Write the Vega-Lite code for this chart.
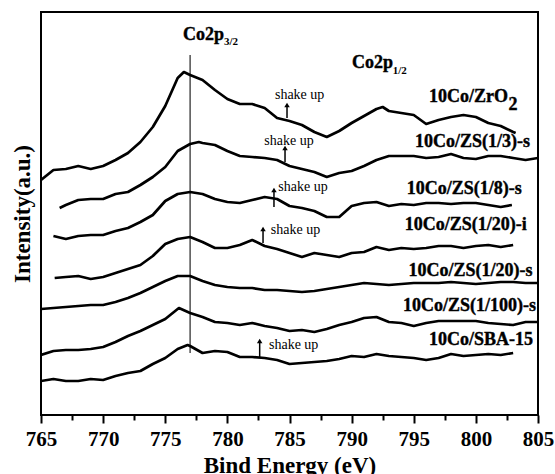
{
  "$schema": "https://vega.github.io/schema/vega-lite/v6.json",
  "width": 497,
  "height": 403,
  "autosize": {"type": "none"},
  "padding": {"left": 41, "top": 12, "right": 17, "bottom": 59},
  "config": {
    "view": {"stroke": "black", "strokeWidth": 2},
    "font": "Liberation Serif",
    "axis": {"grid": false, "domain": false, "labelFont": "Liberation Serif", "labelFontWeight": "bold", "labelFontSize": 21, "labelColor": "black"}
  },
  "datasets": {
    "spectra": [
      {"sample": "10Co/ZrO2", "eV": 765, "intensity": 235}, {"sample": "10Co/ZrO2", "eV": 766, "intensity": 245}, {"sample": "10Co/ZrO2", "eV": 767, "intensity": 246}, {"sample": "10Co/ZrO2", "eV": 768, "intensity": 249}, {"sample": "10Co/ZrO2", "eV": 769, "intensity": 246}, {"sample": "10Co/ZrO2", "eV": 770, "intensity": 249}, {"sample": "10Co/ZrO2", "eV": 771, "intensity": 255}, {"sample": "10Co/ZrO2", "eV": 772, "intensity": 262}, {"sample": "10Co/ZrO2", "eV": 773, "intensity": 273}, {"sample": "10Co/ZrO2", "eV": 774, "intensity": 288}, {"sample": "10Co/ZrO2", "eV": 775, "intensity": 309}, {"sample": "10Co/ZrO2", "eV": 776, "intensity": 337}, {"sample": "10Co/ZrO2", "eV": 776.5, "intensity": 343}, {"sample": "10Co/ZrO2", "eV": 777, "intensity": 340}, {"sample": "10Co/ZrO2", "eV": 778, "intensity": 335}, {"sample": "10Co/ZrO2", "eV": 779, "intensity": 325}, {"sample": "10Co/ZrO2", "eV": 780, "intensity": 316}, {"sample": "10Co/ZrO2", "eV": 781, "intensity": 311}, {"sample": "10Co/ZrO2", "eV": 782, "intensity": 311}, {"sample": "10Co/ZrO2", "eV": 783, "intensity": 307}, {"sample": "10Co/ZrO2", "eV": 784, "intensity": 297}, {"sample": "10Co/ZrO2", "eV": 785, "intensity": 294}, {"sample": "10Co/ZrO2", "eV": 786, "intensity": 290}, {"sample": "10Co/ZrO2", "eV": 787, "intensity": 283}, {"sample": "10Co/ZrO2", "eV": 788, "intensity": 278}, {"sample": "10Co/ZrO2", "eV": 789, "intensity": 284}, {"sample": "10Co/ZrO2", "eV": 790, "intensity": 292}, {"sample": "10Co/ZrO2", "eV": 791, "intensity": 299}, {"sample": "10Co/ZrO2", "eV": 792, "intensity": 306}, {"sample": "10Co/ZrO2", "eV": 792.5, "intensity": 308}, {"sample": "10Co/ZrO2", "eV": 793, "intensity": 304}, {"sample": "10Co/ZrO2", "eV": 794, "intensity": 302}, {"sample": "10Co/ZrO2", "eV": 795, "intensity": 300}, {"sample": "10Co/ZrO2", "eV": 796, "intensity": 291}, {"sample": "10Co/ZrO2", "eV": 797, "intensity": 295}, {"sample": "10Co/ZrO2", "eV": 798, "intensity": 298}, {"sample": "10Co/ZrO2", "eV": 799, "intensity": 300}, {"sample": "10Co/ZrO2", "eV": 800, "intensity": 298}, {"sample": "10Co/ZrO2", "eV": 801, "intensity": 292}, {"sample": "10Co/ZrO2", "eV": 802, "intensity": 289}, {"sample": "10Co/ZrO2", "eV": 803, "intensity": 283}, {"sample": "10Co/ZrO2", "eV": 803.2, "intensity": 282},

      {"sample": "10Co/ZS(1/3)-s", "eV": 766.5, "intensity": 207}, {"sample": "10Co/ZS(1/3)-s", "eV": 767, "intensity": 210}, {"sample": "10Co/ZS(1/3)-s", "eV": 768, "intensity": 215}, {"sample": "10Co/ZS(1/3)-s", "eV": 769, "intensity": 216}, {"sample": "10Co/ZS(1/3)-s", "eV": 770, "intensity": 216}, {"sample": "10Co/ZS(1/3)-s", "eV": 771, "intensity": 221}, {"sample": "10Co/ZS(1/3)-s", "eV": 772, "intensity": 223}, {"sample": "10Co/ZS(1/3)-s", "eV": 773, "intensity": 230}, {"sample": "10Co/ZS(1/3)-s", "eV": 774, "intensity": 238}, {"sample": "10Co/ZS(1/3)-s", "eV": 775, "intensity": 248}, {"sample": "10Co/ZS(1/3)-s", "eV": 776, "intensity": 264}, {"sample": "10Co/ZS(1/3)-s", "eV": 777, "intensity": 271}, {"sample": "10Co/ZS(1/3)-s", "eV": 777.7, "intensity": 273}, {"sample": "10Co/ZS(1/3)-s", "eV": 778, "intensity": 272}, {"sample": "10Co/ZS(1/3)-s", "eV": 779, "intensity": 270}, {"sample": "10Co/ZS(1/3)-s", "eV": 780, "intensity": 264}, {"sample": "10Co/ZS(1/3)-s", "eV": 781, "intensity": 259}, {"sample": "10Co/ZS(1/3)-s", "eV": 782, "intensity": 258}, {"sample": "10Co/ZS(1/3)-s", "eV": 783, "intensity": 257}, {"sample": "10Co/ZS(1/3)-s", "eV": 784, "intensity": 255}, {"sample": "10Co/ZS(1/3)-s", "eV": 785, "intensity": 249}, {"sample": "10Co/ZS(1/3)-s", "eV": 786, "intensity": 246}, {"sample": "10Co/ZS(1/3)-s", "eV": 787, "intensity": 243}, {"sample": "10Co/ZS(1/3)-s", "eV": 788, "intensity": 238}, {"sample": "10Co/ZS(1/3)-s", "eV": 789, "intensity": 242}, {"sample": "10Co/ZS(1/3)-s", "eV": 790, "intensity": 244}, {"sample": "10Co/ZS(1/3)-s", "eV": 791, "intensity": 249}, {"sample": "10Co/ZS(1/3)-s", "eV": 792, "intensity": 255}, {"sample": "10Co/ZS(1/3)-s", "eV": 793, "intensity": 259}, {"sample": "10Co/ZS(1/3)-s", "eV": 794, "intensity": 259}, {"sample": "10Co/ZS(1/3)-s", "eV": 795, "intensity": 259}, {"sample": "10Co/ZS(1/3)-s", "eV": 796, "intensity": 257}, {"sample": "10Co/ZS(1/3)-s", "eV": 797, "intensity": 258}, {"sample": "10Co/ZS(1/3)-s", "eV": 798, "intensity": 261}, {"sample": "10Co/ZS(1/3)-s", "eV": 799, "intensity": 257}, {"sample": "10Co/ZS(1/3)-s", "eV": 800, "intensity": 256}, {"sample": "10Co/ZS(1/3)-s", "eV": 801, "intensity": 259}, {"sample": "10Co/ZS(1/3)-s", "eV": 802, "intensity": 259}, {"sample": "10Co/ZS(1/3)-s", "eV": 803, "intensity": 257}, {"sample": "10Co/ZS(1/3)-s", "eV": 804, "intensity": 255}, {"sample": "10Co/ZS(1/3)-s", "eV": 805, "intensity": 257},

      {"sample": "10Co/ZS(1/8)-s", "eV": 766, "intensity": 179}, {"sample": "10Co/ZS(1/8)-s", "eV": 767, "intensity": 176}, {"sample": "10Co/ZS(1/8)-s", "eV": 768, "intensity": 179}, {"sample": "10Co/ZS(1/8)-s", "eV": 769, "intensity": 180}, {"sample": "10Co/ZS(1/8)-s", "eV": 770, "intensity": 180}, {"sample": "10Co/ZS(1/8)-s", "eV": 771, "intensity": 184}, {"sample": "10Co/ZS(1/8)-s", "eV": 772, "intensity": 187}, {"sample": "10Co/ZS(1/8)-s", "eV": 773, "intensity": 193}, {"sample": "10Co/ZS(1/8)-s", "eV": 774, "intensity": 200}, {"sample": "10Co/ZS(1/8)-s", "eV": 775, "intensity": 214}, {"sample": "10Co/ZS(1/8)-s", "eV": 776, "intensity": 221}, {"sample": "10Co/ZS(1/8)-s", "eV": 777, "intensity": 223}, {"sample": "10Co/ZS(1/8)-s", "eV": 778, "intensity": 221}, {"sample": "10Co/ZS(1/8)-s", "eV": 779, "intensity": 216}, {"sample": "10Co/ZS(1/8)-s", "eV": 780, "intensity": 213}, {"sample": "10Co/ZS(1/8)-s", "eV": 781, "intensity": 212}, {"sample": "10Co/ZS(1/8)-s", "eV": 782, "intensity": 215}, {"sample": "10Co/ZS(1/8)-s", "eV": 783, "intensity": 218}, {"sample": "10Co/ZS(1/8)-s", "eV": 784, "intensity": 216}, {"sample": "10Co/ZS(1/8)-s", "eV": 785, "intensity": 209}, {"sample": "10Co/ZS(1/8)-s", "eV": 786, "intensity": 207}, {"sample": "10Co/ZS(1/8)-s", "eV": 787, "intensity": 204}, {"sample": "10Co/ZS(1/8)-s", "eV": 788, "intensity": 198}, {"sample": "10Co/ZS(1/8)-s", "eV": 789, "intensity": 198}, {"sample": "10Co/ZS(1/8)-s", "eV": 790, "intensity": 209}, {"sample": "10Co/ZS(1/8)-s", "eV": 791, "intensity": 212}, {"sample": "10Co/ZS(1/8)-s", "eV": 792, "intensity": 213}, {"sample": "10Co/ZS(1/8)-s", "eV": 793, "intensity": 209}, {"sample": "10Co/ZS(1/8)-s", "eV": 794, "intensity": 211}, {"sample": "10Co/ZS(1/8)-s", "eV": 795, "intensity": 210}, {"sample": "10Co/ZS(1/8)-s", "eV": 796, "intensity": 212}, {"sample": "10Co/ZS(1/8)-s", "eV": 797, "intensity": 212}, {"sample": "10Co/ZS(1/8)-s", "eV": 798, "intensity": 211}, {"sample": "10Co/ZS(1/8)-s", "eV": 799, "intensity": 212}, {"sample": "10Co/ZS(1/8)-s", "eV": 800, "intensity": 212}, {"sample": "10Co/ZS(1/8)-s", "eV": 801, "intensity": 210}, {"sample": "10Co/ZS(1/8)-s", "eV": 802, "intensity": 208}, {"sample": "10Co/ZS(1/8)-s", "eV": 802.9, "intensity": 210},

      {"sample": "10Co/ZS(1/20)-i", "eV": 766.1, "intensity": 137}, {"sample": "10Co/ZS(1/20)-i", "eV": 767, "intensity": 138}, {"sample": "10Co/ZS(1/20)-i", "eV": 768, "intensity": 139}, {"sample": "10Co/ZS(1/20)-i", "eV": 769, "intensity": 136}, {"sample": "10Co/ZS(1/20)-i", "eV": 770, "intensity": 138}, {"sample": "10Co/ZS(1/20)-i", "eV": 771, "intensity": 142}, {"sample": "10Co/ZS(1/20)-i", "eV": 772, "intensity": 146}, {"sample": "10Co/ZS(1/20)-i", "eV": 773, "intensity": 150}, {"sample": "10Co/ZS(1/20)-i", "eV": 774, "intensity": 159}, {"sample": "10Co/ZS(1/20)-i", "eV": 775, "intensity": 171}, {"sample": "10Co/ZS(1/20)-i", "eV": 776, "intensity": 176}, {"sample": "10Co/ZS(1/20)-i", "eV": 777, "intensity": 178}, {"sample": "10Co/ZS(1/20)-i", "eV": 778, "intensity": 173}, {"sample": "10Co/ZS(1/20)-i", "eV": 779, "intensity": 167}, {"sample": "10Co/ZS(1/20)-i", "eV": 780, "intensity": 167}, {"sample": "10Co/ZS(1/20)-i", "eV": 781, "intensity": 170}, {"sample": "10Co/ZS(1/20)-i", "eV": 782, "intensity": 175}, {"sample": "10Co/ZS(1/20)-i", "eV": 783, "intensity": 169}, {"sample": "10Co/ZS(1/20)-i", "eV": 784, "intensity": 166}, {"sample": "10Co/ZS(1/20)-i", "eV": 785, "intensity": 162}, {"sample": "10Co/ZS(1/20)-i", "eV": 786, "intensity": 158}, {"sample": "10Co/ZS(1/20)-i", "eV": 787, "intensity": 162}, {"sample": "10Co/ZS(1/20)-i", "eV": 788, "intensity": 160}, {"sample": "10Co/ZS(1/20)-i", "eV": 789, "intensity": 158}, {"sample": "10Co/ZS(1/20)-i", "eV": 790, "intensity": 162}, {"sample": "10Co/ZS(1/20)-i", "eV": 791, "intensity": 163}, {"sample": "10Co/ZS(1/20)-i", "eV": 792, "intensity": 168}, {"sample": "10Co/ZS(1/20)-i", "eV": 793, "intensity": 165}, {"sample": "10Co/ZS(1/20)-i", "eV": 794, "intensity": 167}, {"sample": "10Co/ZS(1/20)-i", "eV": 795, "intensity": 166}, {"sample": "10Co/ZS(1/20)-i", "eV": 796, "intensity": 167}, {"sample": "10Co/ZS(1/20)-i", "eV": 797, "intensity": 169}, {"sample": "10Co/ZS(1/20)-i", "eV": 798, "intensity": 169}, {"sample": "10Co/ZS(1/20)-i", "eV": 799, "intensity": 167}, {"sample": "10Co/ZS(1/20)-i", "eV": 800, "intensity": 169}, {"sample": "10Co/ZS(1/20)-i", "eV": 801, "intensity": 170}, {"sample": "10Co/ZS(1/20)-i", "eV": 802, "intensity": 168}, {"sample": "10Co/ZS(1/20)-i", "eV": 803, "intensity": 170},

      {"sample": "10Co/ZS(1/20)-s", "eV": 765, "intensity": 106}, {"sample": "10Co/ZS(1/20)-s", "eV": 766, "intensity": 107}, {"sample": "10Co/ZS(1/20)-s", "eV": 767, "intensity": 108}, {"sample": "10Co/ZS(1/20)-s", "eV": 768, "intensity": 109}, {"sample": "10Co/ZS(1/20)-s", "eV": 769, "intensity": 110}, {"sample": "10Co/ZS(1/20)-s", "eV": 770, "intensity": 110}, {"sample": "10Co/ZS(1/20)-s", "eV": 771, "intensity": 113}, {"sample": "10Co/ZS(1/20)-s", "eV": 772, "intensity": 117}, {"sample": "10Co/ZS(1/20)-s", "eV": 773, "intensity": 122}, {"sample": "10Co/ZS(1/20)-s", "eV": 774, "intensity": 128}, {"sample": "10Co/ZS(1/20)-s", "eV": 775, "intensity": 134}, {"sample": "10Co/ZS(1/20)-s", "eV": 776, "intensity": 139}, {"sample": "10Co/ZS(1/20)-s", "eV": 777, "intensity": 139}, {"sample": "10Co/ZS(1/20)-s", "eV": 778, "intensity": 134}, {"sample": "10Co/ZS(1/20)-s", "eV": 779, "intensity": 130}, {"sample": "10Co/ZS(1/20)-s", "eV": 780, "intensity": 128}, {"sample": "10Co/ZS(1/20)-s", "eV": 781, "intensity": 127}, {"sample": "10Co/ZS(1/20)-s", "eV": 782, "intensity": 127}, {"sample": "10Co/ZS(1/20)-s", "eV": 783, "intensity": 125}, {"sample": "10Co/ZS(1/20)-s", "eV": 784, "intensity": 125}, {"sample": "10Co/ZS(1/20)-s", "eV": 785, "intensity": 124}, {"sample": "10Co/ZS(1/20)-s", "eV": 786, "intensity": 123}, {"sample": "10Co/ZS(1/20)-s", "eV": 787, "intensity": 124}, {"sample": "10Co/ZS(1/20)-s", "eV": 788, "intensity": 126}, {"sample": "10Co/ZS(1/20)-s", "eV": 789, "intensity": 128}, {"sample": "10Co/ZS(1/20)-s", "eV": 790, "intensity": 130}, {"sample": "10Co/ZS(1/20)-s", "eV": 791, "intensity": 132}, {"sample": "10Co/ZS(1/20)-s", "eV": 792, "intensity": 131}, {"sample": "10Co/ZS(1/20)-s", "eV": 793, "intensity": 130}, {"sample": "10Co/ZS(1/20)-s", "eV": 794, "intensity": 131}, {"sample": "10Co/ZS(1/20)-s", "eV": 795, "intensity": 132}, {"sample": "10Co/ZS(1/20)-s", "eV": 796, "intensity": 132}, {"sample": "10Co/ZS(1/20)-s", "eV": 797, "intensity": 132}, {"sample": "10Co/ZS(1/20)-s", "eV": 798, "intensity": 133}, {"sample": "10Co/ZS(1/20)-s", "eV": 799, "intensity": 132}, {"sample": "10Co/ZS(1/20)-s", "eV": 800, "intensity": 131}, {"sample": "10Co/ZS(1/20)-s", "eV": 801, "intensity": 132}, {"sample": "10Co/ZS(1/20)-s", "eV": 802, "intensity": 133}, {"sample": "10Co/ZS(1/20)-s", "eV": 803, "intensity": 133}, {"sample": "10Co/ZS(1/20)-s", "eV": 804, "intensity": 132}, {"sample": "10Co/ZS(1/20)-s", "eV": 805, "intensity": 132},

      {"sample": "10Co/ZS(1/100)-s", "eV": 765, "intensity": 60}, {"sample": "10Co/ZS(1/100)-s", "eV": 766, "intensity": 64}, {"sample": "10Co/ZS(1/100)-s", "eV": 767, "intensity": 65}, {"sample": "10Co/ZS(1/100)-s", "eV": 768, "intensity": 65}, {"sample": "10Co/ZS(1/100)-s", "eV": 769, "intensity": 66}, {"sample": "10Co/ZS(1/100)-s", "eV": 770, "intensity": 68}, {"sample": "10Co/ZS(1/100)-s", "eV": 771, "intensity": 73}, {"sample": "10Co/ZS(1/100)-s", "eV": 772, "intensity": 79}, {"sample": "10Co/ZS(1/100)-s", "eV": 773, "intensity": 84}, {"sample": "10Co/ZS(1/100)-s", "eV": 774, "intensity": 90}, {"sample": "10Co/ZS(1/100)-s", "eV": 775, "intensity": 96}, {"sample": "10Co/ZS(1/100)-s", "eV": 776, "intensity": 106}, {"sample": "10Co/ZS(1/100)-s", "eV": 776.1, "intensity": 107}, {"sample": "10Co/ZS(1/100)-s", "eV": 777, "intensity": 102}, {"sample": "10Co/ZS(1/100)-s", "eV": 778, "intensity": 98}, {"sample": "10Co/ZS(1/100)-s", "eV": 779, "intensity": 93}, {"sample": "10Co/ZS(1/100)-s", "eV": 780, "intensity": 92}, {"sample": "10Co/ZS(1/100)-s", "eV": 781, "intensity": 90}, {"sample": "10Co/ZS(1/100)-s", "eV": 782, "intensity": 92}, {"sample": "10Co/ZS(1/100)-s", "eV": 783, "intensity": 89}, {"sample": "10Co/ZS(1/100)-s", "eV": 784, "intensity": 87}, {"sample": "10Co/ZS(1/100)-s", "eV": 785, "intensity": 84}, {"sample": "10Co/ZS(1/100)-s", "eV": 786, "intensity": 85}, {"sample": "10Co/ZS(1/100)-s", "eV": 787, "intensity": 83}, {"sample": "10Co/ZS(1/100)-s", "eV": 788, "intensity": 86}, {"sample": "10Co/ZS(1/100)-s", "eV": 789, "intensity": 90}, {"sample": "10Co/ZS(1/100)-s", "eV": 790, "intensity": 93}, {"sample": "10Co/ZS(1/100)-s", "eV": 791, "intensity": 97}, {"sample": "10Co/ZS(1/100)-s", "eV": 792, "intensity": 98}, {"sample": "10Co/ZS(1/100)-s", "eV": 793, "intensity": 93}, {"sample": "10Co/ZS(1/100)-s", "eV": 794, "intensity": 92}, {"sample": "10Co/ZS(1/100)-s", "eV": 795, "intensity": 89}, {"sample": "10Co/ZS(1/100)-s", "eV": 796, "intensity": 92}, {"sample": "10Co/ZS(1/100)-s", "eV": 797, "intensity": 94}, {"sample": "10Co/ZS(1/100)-s", "eV": 798, "intensity": 94}, {"sample": "10Co/ZS(1/100)-s", "eV": 799, "intensity": 94}, {"sample": "10Co/ZS(1/100)-s", "eV": 800, "intensity": 94}, {"sample": "10Co/ZS(1/100)-s", "eV": 801, "intensity": 92}, {"sample": "10Co/ZS(1/100)-s", "eV": 802, "intensity": 91}, {"sample": "10Co/ZS(1/100)-s", "eV": 803, "intensity": 90}, {"sample": "10Co/ZS(1/100)-s", "eV": 804, "intensity": 93}, {"sample": "10Co/ZS(1/100)-s", "eV": 805, "intensity": 93},

      {"sample": "10Co/SBA-15", "eV": 765, "intensity": 34}, {"sample": "10Co/SBA-15", "eV": 766, "intensity": 36}, {"sample": "10Co/SBA-15", "eV": 767, "intensity": 34}, {"sample": "10Co/SBA-15", "eV": 768, "intensity": 34}, {"sample": "10Co/SBA-15", "eV": 769, "intensity": 36}, {"sample": "10Co/SBA-15", "eV": 770, "intensity": 35}, {"sample": "10Co/SBA-15", "eV": 771, "intensity": 39}, {"sample": "10Co/SBA-15", "eV": 772, "intensity": 42}, {"sample": "10Co/SBA-15", "eV": 773, "intensity": 44}, {"sample": "10Co/SBA-15", "eV": 774, "intensity": 51}, {"sample": "10Co/SBA-15", "eV": 775, "intensity": 57}, {"sample": "10Co/SBA-15", "eV": 776, "intensity": 66}, {"sample": "10Co/SBA-15", "eV": 776.8, "intensity": 70}, {"sample": "10Co/SBA-15", "eV": 777, "intensity": 69}, {"sample": "10Co/SBA-15", "eV": 778, "intensity": 62}, {"sample": "10Co/SBA-15", "eV": 779, "intensity": 64}, {"sample": "10Co/SBA-15", "eV": 780, "intensity": 63}, {"sample": "10Co/SBA-15", "eV": 781, "intensity": 58}, {"sample": "10Co/SBA-15", "eV": 782, "intensity": 58}, {"sample": "10Co/SBA-15", "eV": 783, "intensity": 57}, {"sample": "10Co/SBA-15", "eV": 784, "intensity": 55}, {"sample": "10Co/SBA-15", "eV": 785, "intensity": 51}, {"sample": "10Co/SBA-15", "eV": 786, "intensity": 52}, {"sample": "10Co/SBA-15", "eV": 787, "intensity": 53}, {"sample": "10Co/SBA-15", "eV": 788, "intensity": 54}, {"sample": "10Co/SBA-15", "eV": 789, "intensity": 56}, {"sample": "10Co/SBA-15", "eV": 790, "intensity": 59}, {"sample": "10Co/SBA-15", "eV": 791, "intensity": 58}, {"sample": "10Co/SBA-15", "eV": 792, "intensity": 61}, {"sample": "10Co/SBA-15", "eV": 793, "intensity": 59}, {"sample": "10Co/SBA-15", "eV": 794, "intensity": 58}, {"sample": "10Co/SBA-15", "eV": 795, "intensity": 57}, {"sample": "10Co/SBA-15", "eV": 796, "intensity": 55}, {"sample": "10Co/SBA-15", "eV": 797, "intensity": 57}, {"sample": "10Co/SBA-15", "eV": 798, "intensity": 61}, {"sample": "10Co/SBA-15", "eV": 799, "intensity": 59}, {"sample": "10Co/SBA-15", "eV": 800, "intensity": 60}, {"sample": "10Co/SBA-15", "eV": 801, "intensity": 61}, {"sample": "10Co/SBA-15", "eV": 802, "intensity": 60}, {"sample": "10Co/SBA-15", "eV": 803, "intensity": 62}
    ],
    "marker": [{"eV": 777, "top": 360, "bottom": 62}],
    "arrows": [
      {"sample": "10Co/ZrO2", "eV": 784.8, "head": 310, "base": 297},
      {"sample": "10Co/ZS(1/3)-s", "eV": 784.64, "head": 267, "base": 253},
      {"sample": "10Co/ZS(1/8)-s", "eV": 783.75, "head": 225, "base": 208},
      {"sample": "10Co/ZS(1/20)-i", "eV": 782.87, "head": 186, "base": 172},
      {"sample": "10Co/SBA-15", "eV": 782.6, "head": 74, "base": 57}
    ],
    "labels": [
      {"kind": "sample", "label": "10Co/ZrO", "eV": 802.59, "intensity": 313},
      {"kind": "sub", "label": "2", "eV": 802.62, "intensity": 305},
      {"kind": "sample", "label": "10Co/ZS(1/3)-s", "eV": 804.36, "intensity": 268},
      {"kind": "sample", "label": "10Co/ZS(1/8)-s", "eV": 803.7, "intensity": 221},
      {"kind": "sample", "label": "10Co/ZS(1/20)-i", "eV": 804.1, "intensity": 185},
      {"kind": "sample", "label": "10Co/ZS(1/20)-s", "eV": 804.56, "intensity": 139},
      {"kind": "sample", "label": "10Co/ZS(1/100)-s", "eV": 804.84, "intensity": 104},
      {"kind": "sample", "label": "10Co/SBA-15", "eV": 804.6, "intensity": 70},
      {"kind": "peak", "label": "Co2p", "eV": 776.43, "intensity": 375},
      {"kind": "peakSub", "label": "3/2", "eV": 779.73, "intensity": 370},
      {"kind": "peak", "label": "Co2p", "eV": 790.03, "intensity": 347},
      {"kind": "peakSub", "label": "1/2", "eV": 793.3, "intensity": 341},
      {"kind": "note", "label": "shake up", "eV": 783.83, "intensity": 320},
      {"kind": "note", "label": "shake up", "eV": 782.97, "intensity": 274},
      {"kind": "note", "label": "shake up", "eV": 784.1, "intensity": 228},
      {"kind": "note", "label": "shake up", "eV": 783.5, "intensity": 185},
      {"kind": "note", "label": "shake up", "eV": 783.35, "intensity": 70}
    ]
  },
  "resolve": {"axis": {"x": "independent", "y": "independent"}},
  "layer": [
    {
      "data": {"name": "marker"},
      "mark": {"type": "rule", "color": "#333333", "strokeWidth": 1.3},
      "encoding": {
        "x": {
          "field": "eV", "type": "quantitative",
          "scale": {"domain": [765, 805], "nice": false, "zero": false},
          "axis": {
            "orient": "bottom",
            "values": [767.5, 772.5, 777.5, 782.5, 787.5, 792.5, 797.5, 802.5],
            "labels": false, "title": null,
            "tickColor": "black", "tickSize": 5, "tickWidth": 2
          }
        },
        "y": {"field": "top", "type": "quantitative", "scale": {"domain": [0, 403], "nice": false, "zero": false}, "axis": null},
        "y2": {"field": "bottom"}
      }
    },
    {
      "data": {"name": "spectra"},
      "mark": {"type": "line", "color": "black", "strokeWidth": 2.7, "strokeJoin": "round", "clip": true},
      "encoding": {
        "x": {
          "field": "eV", "type": "quantitative",
          "axis": {
            "orient": "bottom",
            "values": [765, 770, 775, 780, 785, 790, 795, 800, 805],
            "title": "Bind Energy (eV)",
            "labelFont": "Liberation Serif", "labelFontSize": 21, "labelFontWeight": "bold", "labelColor": "black",
            "labelFlush": false, "labelPadding": 5,
            "tickColor": "black", "tickSize": 8, "tickWidth": 2,
            "titleFont": "Liberation Serif", "titleFontSize": 23, "titleFontWeight": "bold", "titleColor": "black", "titlePadding": 5
          }
        },
        "y": {
          "field": "intensity", "type": "quantitative",
          "axis": {
            "ticks": false, "labels": false,
            "title": "Intensity(a.u.)",
            "titleFont": "Liberation Serif", "titleFontSize": 23, "titleFontWeight": "bold", "titleColor": "black", "titlePadding": 7
          }
        },
        "detail": {"field": "sample"},
        "order": {"field": "eV", "type": "quantitative"}
      }
    },
    {
      "data": {"name": "arrows"},
      "mark": {"type": "rule", "color": "black", "strokeWidth": 1.5},
      "encoding": {
        "x": {"field": "eV", "type": "quantitative", "axis": null},
        "y": {"field": "base", "type": "quantitative", "axis": null},
        "y2": {"field": "head"}
      }
    },
    {
      "data": {"name": "arrows"},
      "mark": {"type": "point", "shape": "triangle-up", "filled": true, "color": "black", "size": 30, "opacity": 1},
      "encoding": {
        "x": {"field": "eV", "type": "quantitative", "axis": null},
        "y": {"field": "head", "type": "quantitative", "axis": null}
      }
    },
    {
      "data": {"name": "labels"},
      "transform": [{"filter": "datum.kind === 'sample'"}],
      "mark": {"type": "text", "font": "Liberation Serif", "fontSize": 18, "fontWeight": "bold", "align": "right", "baseline": "alphabetic", "color": "black", "stroke": "black", "strokeWidth": 0.4},
      "encoding": {
        "x": {"field": "eV", "type": "quantitative", "axis": null},
        "y": {"field": "intensity", "type": "quantitative", "axis": null},
        "text": {"field": "label"}
      }
    },
    {
      "data": {"name": "labels"},
      "transform": [{"filter": "datum.kind === 'sub'"}],
      "mark": {"type": "text", "font": "Liberation Serif", "fontSize": 18, "fontWeight": "bold", "align": "left", "baseline": "alphabetic", "color": "black", "stroke": "black", "strokeWidth": 0.4},
      "encoding": {
        "x": {"field": "eV", "type": "quantitative", "axis": null},
        "y": {"field": "intensity", "type": "quantitative", "axis": null},
        "text": {"field": "label"}
      }
    },
    {
      "data": {"name": "labels"},
      "transform": [{"filter": "datum.kind === 'peak'"}],
      "mark": {"type": "text", "font": "Liberation Serif", "fontSize": 18, "fontWeight": "bold", "align": "left", "baseline": "alphabetic", "color": "black", "stroke": "black", "strokeWidth": 0.4},
      "encoding": {
        "x": {"field": "eV", "type": "quantitative", "axis": null},
        "y": {"field": "intensity", "type": "quantitative", "axis": null},
        "text": {"field": "label"}
      }
    },
    {
      "data": {"name": "labels"},
      "transform": [{"filter": "datum.kind === 'peakSub'"}],
      "mark": {"type": "text", "font": "Liberation Serif", "fontSize": 11, "fontWeight": "bold", "align": "left", "baseline": "alphabetic", "color": "black"},
      "encoding": {
        "x": {"field": "eV", "type": "quantitative", "axis": null},
        "y": {"field": "intensity", "type": "quantitative", "axis": null},
        "text": {"field": "label"}
      }
    },
    {
      "data": {"name": "labels"},
      "transform": [{"filter": "datum.kind === 'note'"}],
      "mark": {"type": "text", "font": "Liberation Serif", "fontSize": 14, "align": "left", "baseline": "middle", "color": "black"},
      "encoding": {
        "x": {"field": "eV", "type": "quantitative", "axis": null},
        "y": {"field": "intensity", "type": "quantitative", "axis": null},
        "text": {"field": "label"}
      }
    }
  ]
}
